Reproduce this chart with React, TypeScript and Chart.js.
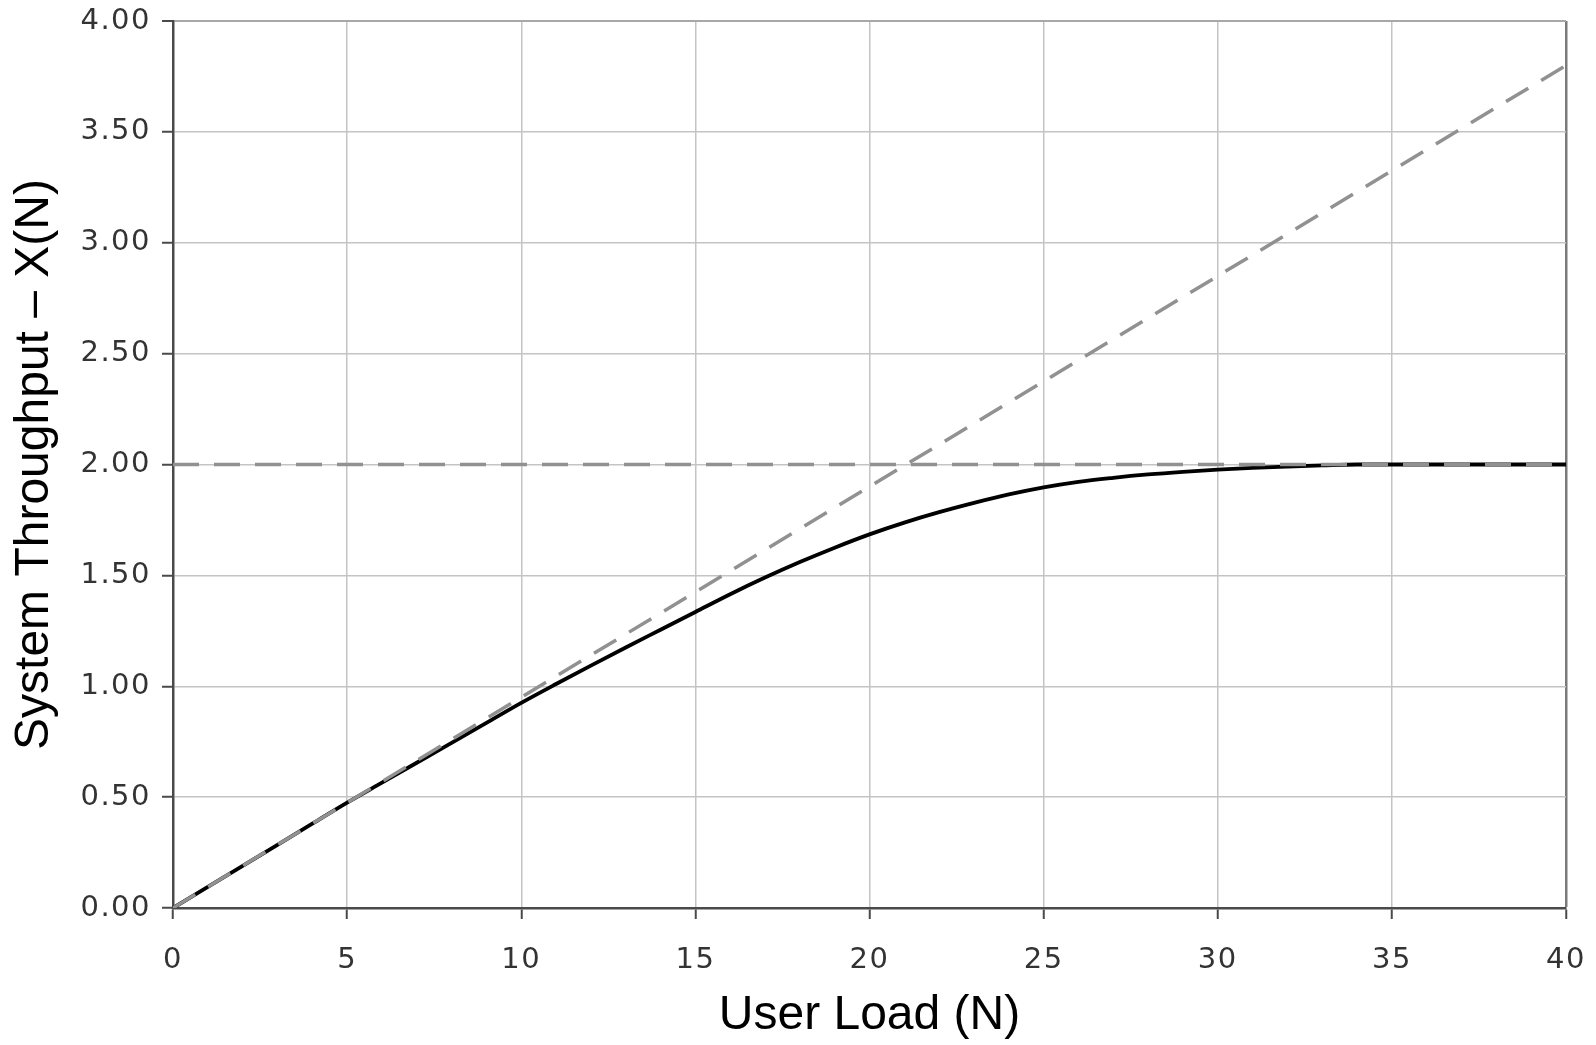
import React, { useEffect, useRef } from "react";
import { Chart, registerables } from "chart.js";

Chart.register(...registerables);

// User load N
const userLoad = [0, 1, 2, 3, 4, 5, 6, 7, 8, 9, 10, 11, 12, 13, 14, 15, 16, 17, 18, 19, 20,
  21, 22, 23, 24, 25, 26, 27, 28, 29, 30, 31, 32, 33, 34, 35, 36, 37, 38, 39, 40];
// System throughput X(N)
const throughput = [0, 0.095, 0.19, 0.285, 0.38, 0.475, 0.565, 0.655, 0.745, 0.835, 0.925,
  1.01, 1.093, 1.175, 1.255, 1.335, 1.415, 1.49, 1.56, 1.625, 1.685,
  1.738, 1.785, 1.827, 1.865, 1.897, 1.922, 1.94, 1.955, 1.967, 1.977,
  1.985, 1.991, 1.996, 2.0, 2.0, 2.0, 2.0, 2.0, 2.0, 2.0];
// Asymptotic bounds
const lightLoadX = [0, 40];
const lightLoadY = [0, 3.8];
const heavyLoadX = [0, 40];
const heavyLoadY = [2.0, 2.0];

const xTicks = [0, 5, 10, 15, 20, 25, 30, 35, 40];
const yTicks = ["0.00", "0.50", "1.00", "1.50", "2.00", "2.50", "3.00", "3.50", "4.00"];

const xTitle = "User Load (N)";
const yTitle = "System Throughput – X(N)";

function patchScale(s: any, size: number) {
  s.paddingTop = 0;
  s.paddingBottom = 0;
  s.paddingLeft = 0;
  s.paddingRight = 0;
  if (size === -1) s.height = 137;
  else s.width = size;
  if (!s.__patched) {
    const orig = s.drawLabels;
    s.drawLabels = function (area: any) {
      const ctx = this.ctx;
      ctx.save();
      try {
        (ctx as any).letterSpacing = "1.5px";
      } catch (e) {}
      orig.call(this, area);
      ctx.restore();
    };
    s.__patched = true;
  }
}

export default function App() {
  const ref = useRef<HTMLCanvasElement | null>(null);
  useEffect(() => {
    if (!ref.current) return;
    const gray = "rgb(145,145,145)";
    const chart = new Chart(ref.current, {
      type: "scatter",
      data: {
        datasets: [
          {
            label: "heavy",
            data: heavyLoadX.map((x, i) => ({ x, y: heavyLoadY[i] })),
            showLine: true,
            borderColor: gray,
            borderWidth: 3.5,
            borderDash: [26, 15],
            pointRadius: 0,
            order: 1,
          },
          {
            label: "light",
            data: lightLoadX.map((x, i) => ({ x, y: lightLoadY[i] })),
            showLine: true,
            borderColor: gray,
            borderWidth: 3.5,
            borderDash: [26, 15],
            pointRadius: 0,
            order: 1,
          },
          {
            label: "X(N)",
            data: userLoad.map((x, i) => ({ x, y: throughput[i] })),
            showLine: true,
            borderColor: "#000000",
            borderWidth: 3.8,
            pointRadius: 0,
            cubicInterpolationMode: "monotone",
            order: 2,
          },
        ],
      },
      options: {
        animation: false,
        responsive: false,
        maintainAspectRatio: false,
        layout: { padding: { left: 0, right: 30, top: 21, bottom: 0 } },
        plugins: { legend: { display: false }, tooltip: { enabled: false } },
        scales: {
          x: {
            type: "linear",
            min: 0,
            max: 40,
            afterBuildTicks: (s: any) => {
              s.ticks = xTicks.map((v) => ({ value: v }));
            },
            afterFit: (s: any) => patchScale(s, -1),
            ticks: {
              font: { family: "DejaVu Sans", size: 29 },
              color: "#333333",
              padding: 24,
              maxRotation: 0,
              autoSkip: false,
              callback: (v: any) => String(v),
            },
            grid: {
              color: (c: any) => (c.tick && c.tick.value === 40 ? "#7a7a7a" : "#c4c4c4"),
              lineWidth: (c: any) => (c.tick && c.tick.value === 40 ? 2.5 : 1.5),
              tickColor: "#4a4a4a",
              tickWidth: 2,
              tickLength: 11,
            },
            border: { color: "#4a4a4a", width: 2.5 },
            title: {
              display: true,
              text: xTitle,
              font: { family: "Liberation Sans", size: 48 },
              color: "#000000",
              padding: { top: 0, bottom: 0 },
            },
          },
          y: {
            type: "linear",
            min: 0,
            max: 4,
            afterBuildTicks: (s: any) => {
              s.ticks = yTicks.map((t) => ({ value: parseFloat(t) }));
            },
            afterFit: (s: any) => patchScale(s, 173),
            ticks: {
              font: { family: "DejaVu Sans", size: 29 },
              color: "#333333",
              padding: 11,
              autoSkip: false,
              callback: (v: any) => {
                const idx = yTicks.findIndex((t) => parseFloat(t) === v);
                return idx >= 0 ? yTicks[idx] : "";
              },
            },
            grid: {
              color: (c: any) => (c.tick && c.tick.value === 4 ? "#a8a8a8" : "#c4c4c4"),
              lineWidth: (c: any) => (c.tick && c.tick.value === 4 ? 2 : 1.5),
              tickColor: "#4a4a4a",
              tickWidth: 2,
              tickLength: 11,
            },
            border: { color: "#4a4a4a", width: 2.5 },
            title: {
              display: true,
              text: yTitle,
              font: { family: "Liberation Sans", size: 48 },
              color: "#000000",
              padding: { top: 6, bottom: 0 },
            },
          },
        },
      },
    });
    return () => chart.destroy();
  }, []);
  return (
    <div style={{ position: "fixed", left: 0, top: 0, width: 1596, height: 1045, background: "#ffffff" }}>
      <canvas ref={ref} width={1596} height={1045} style={{ width: 1596, height: 1045, display: "block" }} />
    </div>
  );
}
